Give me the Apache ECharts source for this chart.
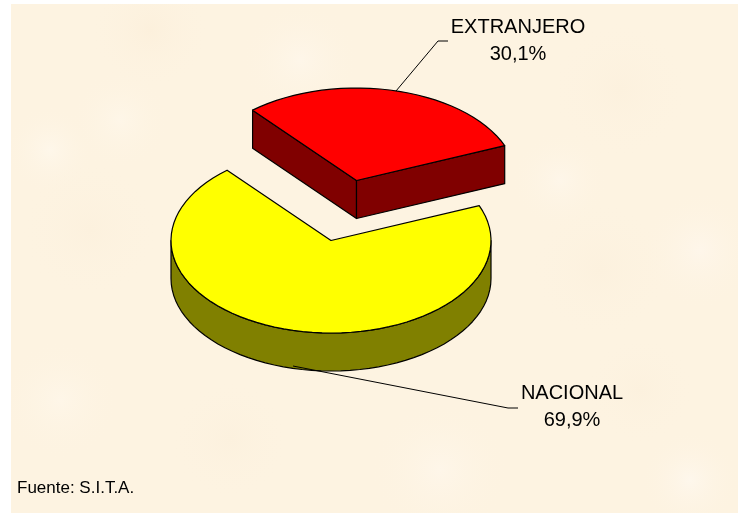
<!DOCTYPE html>
<html>
<head>
<meta charset="utf-8">
<style>html,body{margin:0;padding:0;background:#fff}#c{width:738px;height:513px}</style>
<script src="https://cdn.jsdelivr.net/npm/echarts@6/dist/echarts.min.js"></script>
</head>
<body>
<div id="c"></div>
<script>
var categories = ['EXTRANJERO', 'NACIONAL'];
var shares = [30.1, 69.9];
var shareLabels = ['30,1%', '69,9%'];
var sourceNote = 'Fuente: S.I.T.A.';

var topColors = ['#ff0000', '#ffff00'];
var wallColors = ['#800000', '#808000'];
var explode = [[25.5, -60], [0, 0]];
var labelPos = [[518, 41], [572, 407]];
var leaders = [
  [[396, 91], [438, 41], [448, 41]],
  [[293, 366], [508, 408], [518, 408]]
];
var CX = 331, CY = 240.5, RX = 160, RY = 92.5, DEPTH = 38, START = 130.5;

function pt(deg, ox, oy, dz) {
  var a = deg * Math.PI / 180;
  return [CX + ox + RX * Math.cos(a), CY + oy + dz - RY * Math.sin(a)];
}
function arc(from, to, ox, oy, dz) {
  var n = Math.max(2, Math.ceil(Math.abs(to - from) / 3.5)), out = [];
  for (var i = 0; i <= n; i++) out.push(pt(from + (to - from) * i / n, ox, oy, dz));
  return out;
}
var total = shares[0] + shares[1];

function renderItem(params, api) {
  var i = params.dataIndex;
  var before = 0;
  for (var k = 0; k < i; k++) before += shares[k];
  var a0 = START - before / total * 360;
  var a1 = a0 - api.value(1) / total * 360;
  var ox = explode[i][0], oy = explode[i][1];
  var apex = [CX + ox, CY + oy];
  var style = function (fill) { return { fill: fill, stroke: '#000', lineWidth: 1.2, lineJoin: 'round' }; };
  var kids = [];
  // outer wall: only the part of the rim facing the viewer (angles 180..360)
  var lo = Math.max(a1, -180), hi = Math.min(a0, 0);
  if (hi > lo) {
    var rim = arc(hi, lo, ox, oy, 0);
    var rimLow = arc(lo, hi, ox, oy, DEPTH);
    kids.push({ type: 'polygon', shape: { points: rim.concat(rimLow) }, style: style(wallColors[i]) });
  }
  // cut faces: visible when the slice is the exploded back one
  if (ox !== 0 || oy !== 0) {
    [a0, a1].forEach(function (a) {
      var p = pt(a, ox, oy, 0);
      kids.push({ type: 'polygon', shape: { points: [apex, p, [p[0], p[1] + DEPTH], [apex[0], apex[1] + DEPTH]] }, style: style(wallColors[i]) });
    });
  }
  kids.push({ type: 'polygon', shape: { points: [apex].concat(arc(a0, a1, ox, oy, 0)) }, style: style(topColors[i]) });
  kids.push({ type: 'polyline', shape: { points: leaders[i] }, style: { fill: null, stroke: '#000', lineWidth: 1 } });
  kids.push({
    type: 'text',
    style: {
      x: labelPos[i][0], y: labelPos[i][1],
      text: api.value(2) + '\n' + shareLabels[i],
      align: 'center', verticalAlign: 'middle',
      fontFamily: 'Liberation Sans', fontSize: 20, lineHeight: 27, fill: '#000'
    }
  });
  return { type: 'group', children: kids };
}

// paper-like backdrop
var bgX = 11, bgY = 4;
var blotches = [
  [50,150,45,'#fef7ea'],[150,30,60,'#fcf0dc'],[300,60,60,'#fef6e9'],[620,90,70,'#fcf1de'],[700,250,60,'#fef6ea'],
  [90,230,70,'#fcf1de'],[60,400,60,'#fef6e8'],[230,440,60,'#fcf1de'],[440,470,70,'#fef6e9'],[690,480,50,'#fef7ec'],
  [600,270,70,'#fcf1de'],[560,180,50,'#fef6e9'],[120,120,50,'#fef6e8'],[640,390,55,'#fcf1de']
];
var graphics = [{ type: 'rect', silent: true, z: -10, shape: { x: bgX, y: bgY, width: 738 - bgX, height: 513 - bgY }, style: { fill: '#fdf3e1' } }];
blotches.forEach(function (b) {
  graphics.push({
    type: 'circle', silent: true, z: -9, shape: { cx: b[0], cy: b[1], r: b[2] },
    style: { fill: { type: 'radial', x: 0.5, y: 0.5, r: 0.5, colorStops: [{ offset: 0, color: b[3] }, { offset: 1, color: 'rgba(253,243,225,0)' }] } }
  });
});
graphics.push({ type: 'rect', silent: true, z: -8, shape: { x: 0, y: 0, width: bgX, height: 513 }, style: { fill: '#fff' } });
graphics.push({ type: 'rect', silent: true, z: -8, shape: { x: 0, y: 0, width: 738, height: bgY }, style: { fill: '#fff' } });
graphics.push({ type: 'text', z: 5, style: { x: 17, y: 488, text: sourceNote, fontFamily: 'Liberation Sans', fontSize: 17, fill: '#000', verticalAlign: 'middle' } });

var chart = echarts.init(document.getElementById('c'), null, { renderer: 'canvas' });
chart.setOption({
  animation: false,
  backgroundColor: '#ffffff',
  graphic: graphics,
  series: [{
    type: 'custom',
    coordinateSystem: 'none',
    renderItem: renderItem,
    clip: false,
    encode: { value: 1 },
    data: categories.map(function (c, i) { return [i, shares[i], c]; }),
    dimensions: ['idx', 'share', { name: 'name', type: 'ordinal' }]
  }]
});
</script>
</body>
</html>
